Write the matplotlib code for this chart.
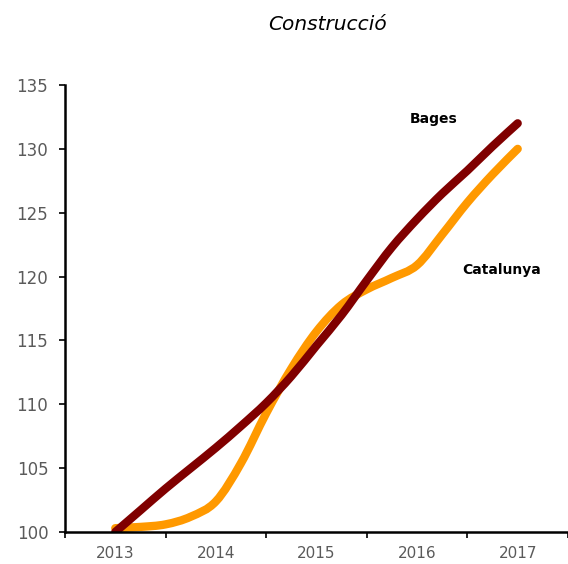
import matplotlib
matplotlib.use("Agg")
import matplotlib.pyplot as plt
from matplotlib.path import Path
from matplotlib.patches import PathPatch
import numpy as np

# Years shown on the x axis (categories)
years = ["2013", "2014", "2015", "2016", "2017"]

# Positions of the readings (in years since 2013, quarterly steps)
quarters = np.arange(0, 4.01, 0.25)

# Index values
bages = [100, 101.7, 103.4, 105.0, 106.6, 108.3, 110.1, 112.2, 114.6,
         117.0, 119.7, 122.3, 124.5, 126.5, 128.3, 130.2, 132.0]
catalunya = [100.3, 100.4, 100.6, 101.2, 102.4, 105.4, 109.3, 112.8, 115.7,
             117.8, 119.0, 119.9, 120.9, 123.3, 125.8, 128.0, 130.0]

yticks = [100, 105, 110, 115, 120, 125, 130, 135]


def smooth_path(x, y):
    # smoothed line like the spreadsheet's "smooth line" option (Catmull-Rom as Bezier)
    pts = np.column_stack([x, y])
    ext = np.vstack([pts[0], pts, pts[-1]])
    verts = [pts[0]]
    codes = [Path.MOVETO]
    for i in range(1, len(ext) - 2):
        p0, p1, p2, p3 = ext[i - 1], ext[i], ext[i + 1], ext[i + 2]
        verts += [p1 + (p2 - p0) / 6, p2 - (p3 - p1) / 6, p2]
        codes += [Path.CURVE4] * 3
    return Path(verts, codes)


fig = plt.figure(figsize=(5.68, 5.64), dpi=100)
ax = fig.add_axes([0.1144, 0.0567, 0.8856, 0.7926])

ax.add_patch(PathPatch(smooth_path(quarters, catalunya), facecolor="none",
                       edgecolor="#FF9900", linewidth=6, capstyle="round", zorder=2))
ax.add_patch(PathPatch(smooth_path(quarters, bages), facecolor="none",
                       edgecolor="#800000", linewidth=6, capstyle="round", zorder=3))

ax.set_xlim(-0.5, 4.5)
ax.set_ylim(100, 135)
ax.set_yticks(yticks)
ax.set_yticklabels([str(v) for v in yticks])

# category boundaries as major ticks, year labels centred between them
ax.set_xticks(np.arange(-0.5, 4.6, 1.0))
ax.set_xticklabels([])
ax.set_xticks(np.arange(0, 5), minor=True)
ax.set_xticklabels(years, minor=True)
ax.tick_params(axis="x", which="minor", length=0, pad=10, labelsize=11)
ax.tick_params(axis="x", which="major", length=4, width=1.2, direction="out")
ax.tick_params(axis="y", length=4, width=1.2, direction="out", pad=8, labelsize=12)
ax.tick_params(axis="both", which="both", labelcolor="#5a5a5a")

for side in ["top", "right"]:
    ax.spines[side].set_visible(False)
for side in ["left", "bottom"]:
    ax.spines[side].set_linewidth(1.8)
    ax.spines[side].set_color("black")
    ax.spines[side].set_zorder(4)

# series labels
ax.text(2.93, 132.3, "Bages", fontsize=10, fontweight="bold",
        ha="left", va="center")
ax.text(3.45, 120.5, "Catalunya", fontsize=10, fontweight="bold",
        ha="left", va="center")

fig.text(0.576, 0.957, "Construcció", fontsize=14.5, style="italic",
         ha="center", va="center")

plt.savefig("out.png", dpi=100)
